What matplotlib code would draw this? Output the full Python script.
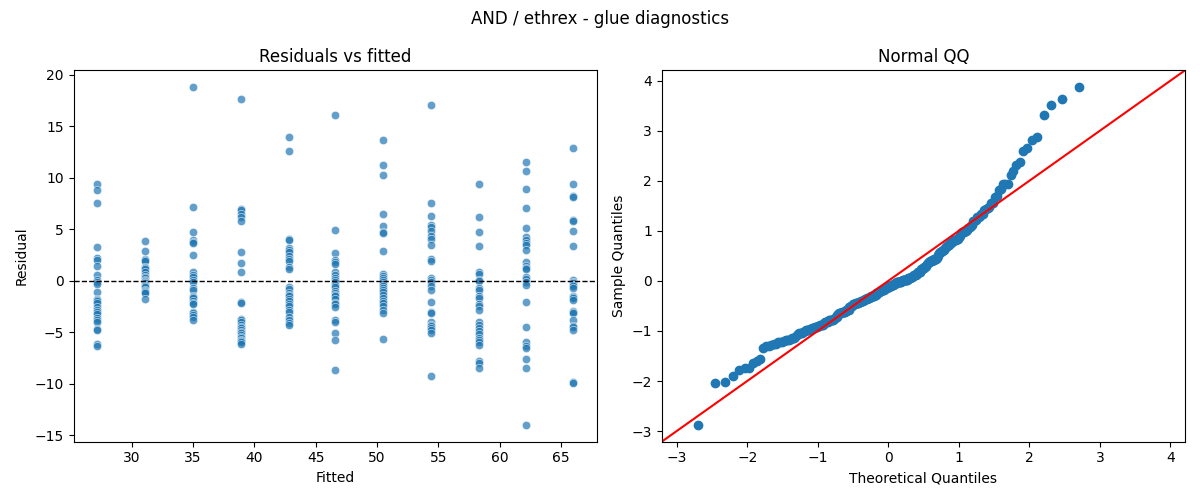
import numpy as np
import pandas as pd
import matplotlib
matplotlib.use("Agg")
import matplotlib.pyplot as plt
import seaborn as sns
from statistics import NormalDist

fitted_levels = [27.2, 31.1, 35.0, 38.9, 42.8, 46.6, 50.5, 54.4, 58.3, 62.2, 66.0]

res_27 = [9.4, 8.8, 7.6, 3.3, 2.2, 2.0, 1.4, 0.6, 0.1, -0.1, -0.3, -1.1, -1.8, -1.9,
          -2.0, -2.2, -2.6, -2.8, -3.0, -3.2, -3.6, -3.8, -4.0, -4.7, -4.8, -6.1, -6.3]
res_31 = [3.9, 2.9, 2.1, 2.0, 1.9, 1.3, 1.2, 1.1, 0.8, 0.6, 0.4, 0.3, 0.1,
          0.0, -0.1, -0.2, -0.4, -0.5, -0.6, -0.9, -1.0, -1.1, -1.2, -1.8]
res_35 = [18.8, 7.2, 4.7, 4.0, 3.8, 3.7, 2.5, 0.8, 0.6, 0.4, 0.1, -0.1, -0.7,
          -0.9, -1.5, -1.6, -1.7, -2.0, -2.2, -2.3, -3.0, -3.1, -3.3, -3.5, -3.8]
res_39 = [17.7, 7.0, 6.9, 6.5, 6.2, 5.8, 2.8, 1.7, 0.8, -2.1, -2.2, -3.7, -3.8, -4.0,
          -4.3, -4.5, -4.6, -4.8, -5.0, -5.1, -5.3, -5.5, -5.6, -5.8, -5.9, -6.0, -6.1]
res_43 = [14.0, 12.6, 4.1, 4.0, 3.2, 3.0, 2.8, 2.4, 2.1, 1.9, 1.3, 1.1, -0.6, -0.8,
          -1.2, -1.4, -1.5, -1.8, -2.0, -2.3, -2.5, -2.8, -3.0, -3.5, -3.8, -4.1, -4.3]
res_47 = [16.1, 4.9, 2.7, 2.0, 1.8, 1.6, 0.8, 0.6, 0.3, 0.1, -0.1, -0.4, -0.6,
          -1.0, -1.2, -1.4, -1.5, -1.8, -2.2, -2.3, -2.6, -3.8, -4.0, -5.1, -5.8, -8.7]
res_51 = [13.7, 11.2, 10.3, 6.5, 5.3, 4.7, 4.6, 2.9, 0.7, 0.5, 0.3, 0.1, -0.1, -0.3,
          -0.5, -0.7, -0.9, -1.1, -1.4, -1.7, -2.0, -2.2, -2.5, -2.8, -3.1, -5.7]
res_54 = [17.1, 7.6, 6.3, 5.4, 5.2, 4.8, 4.3, 4.1, 3.5, 2.1, 1.9, 0.3, 0.1, -0.1,
          -0.5, -0.9, -2.1, -3.0, -3.1, -4.0, -4.3, -4.4, -4.6, -4.8, -5.1, -9.3]
res_58 = [9.4, 6.2, 4.7, 3.4, 0.8, 0.7, 0.1, 0.0, -0.7, -0.9, -1.5, -1.7, -2.3, -2.5,
          -2.8, -4.0, -4.3, -4.6, -4.9, -5.2, -5.6, -5.8, -6.0, -6.2, -7.8, -8.0, -8.5]
res_62 = [11.5, 10.7, 8.9, 7.1, 5.1, 4.2, 4.0, 3.7, 3.5, 3.0, 1.8, 1.4, 1.2, 1.1, 0.4,
          0.2, -0.1, -0.4, -2.1, -4.5, -6.0, -6.3, -6.5, -7.6, -8.5, -14.0]
res_66 = [12.9, 9.4, 8.2, 8.1, 5.9, 5.8, 4.8, 3.4, 0.1, -0.1, -0.2, -0.4, -0.5, -0.7,
          -1.5, -1.6, -1.7, -1.9, -2.9, -3.0, -3.1, -3.8, -4.4, -4.5, -4.8, -9.8, -9.9]

residual_groups = [res_27, res_31, res_35, res_39, res_43, res_47,
                   res_51, res_54, res_58, res_62, res_66]

fitted = []
resid = []
for lvl, grp in zip(fitted_levels, residual_groups):
    fitted += [lvl] * len(grp)
    resid += grp
df = pd.DataFrame({"fitted": fitted, "resid": resid})

fig, (ax1, ax2) = plt.subplots(1, 2, figsize=(12, 5), dpi=100)

sns.scatterplot(data=df, x="fitted", y="resid", ax=ax1, alpha=0.7)
ax1.axhline(0, color="black", linestyle="--", linewidth=1)
ax1.set_title("Residuals vs fitted")
ax1.set_xlabel("Fitted")
ax1.set_ylabel("Residual")

# Normal QQ (standardized, plotting positions i/(n+1))
r = np.sort(np.asarray(resid, dtype=float))
n = len(r)
loc, scale = r.mean(), r.std()
sample_q = (r - loc) / scale
nd = NormalDist()
theo_q = np.array([nd.inv_cdf(i / (n + 1)) for i in range(1, n + 1)])
ax2.plot(theo_q, sample_q, marker="o", linestyle="none", color="C0")
xl, yl = ax2.get_xlim(), ax2.get_ylim()
lo, hi = min(xl[0], yl[0]), max(xl[1], yl[1])
ax2.plot([lo, hi], [lo, hi], color="red")
ax2.set_xlim(lo, hi)
ax2.set_ylim(lo, hi)
ax2.set_title("Normal QQ")
ax2.set_xlabel("Theoretical Quantiles")
ax2.set_ylabel("Sample Quantiles")

fig.suptitle("AND / ethrex - glue diagnostics")
fig.tight_layout()
fig.savefig("out.png")
